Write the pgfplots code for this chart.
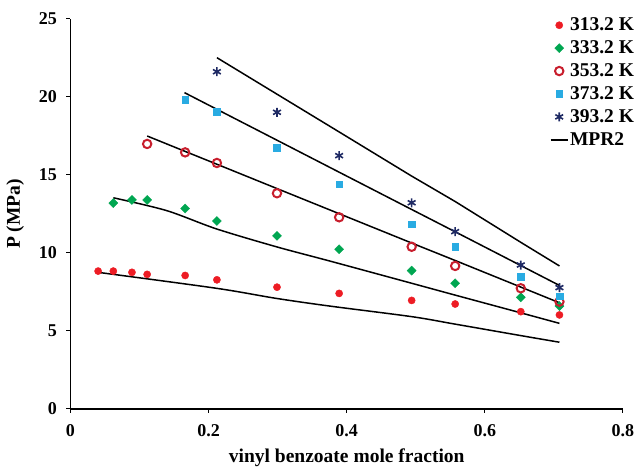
\documentclass[border=0pt]{standalone}
\usepackage{fontspec}
\setmainfont{Liberation Serif}
\usepackage{pgfplots}
\pgfplotsset{compat=1.18}
\definecolor{cA}{RGB}{237,28,36}
\definecolor{cB}{RGB}{0,166,81}
\definecolor{cC}{RGB}{200,30,45}
\definecolor{cD}{RGB}{41,171,226}
\definecolor{cE}{RGB}{31,42,100}
\begin{document}
\begin{tikzpicture}
\path[use as bounding box] (-70.5pt,-59pt) rectangle (566.5pt,409pt);
\begin{axis}[at={(0,0)}, anchor=south west, scale only axis,
  width=552.5pt, height=390pt,
  xmin=0, xmax=0.8, ymin=0, ymax=25,
  axis lines=left, axis line style={-, line width=1.2pt},
  tick align=outside, major tick length=4pt,
  tick style={line width=1pt, black},
  xtick={0,0.2,0.4,0.6,0.8}, xticklabels={0,0.2,0.4,0.6,0.8},
  ytick={0,5,10,15,20,25}, yticklabels={0,5,10,15,20,25},
  /pgf/number format/assume math mode=true,
  ticklabel style={font=\bfseries\fontsize{18}{20}\selectfont},
  xticklabel style={yshift=-8pt},
  yticklabel style={xshift=-6pt},
  xlabel={vinyl benzoate mole fraction},
  ylabel={P (MPa)},
  label style={font=\bfseries\fontsize{19.5}{21}\selectfont},
  xlabel style={at={(axis description cs:0.5,-0.125)}, anchor=center},
  ylabel style={at={(axis description cs:-0.1,0.5)}, anchor=center},
  legend style={draw=none, fill=none, at={(rel axis cs:0.862,1.012)}, anchor=north west,
    font=\bfseries\fontsize{19.5}{21}\selectfont, row sep=5.5pt,
    nodes={inner sep=1.5pt}},
  legend cell align=left,
  clip=false,
]
\addplot[only marks, mark=*, mark size=3.6pt, color=cA] coordinates {
(0.040,8.84)(0.062,8.84)(0.089,8.76)(0.111,8.63)(0.166,8.56)(0.212,8.28)(0.299,7.81)(0.389,7.41)(0.494,6.96)(0.557,6.73)(0.652,6.24)(0.708,6.03)};
\addlegendentry{313.2 K}
\addplot[only marks, mark=square*, mark size=3.2pt, mark options={rotate=45}, color=cB] coordinates {
(0.062,13.2)(0.089,13.4)(0.111,13.4)(0.166,12.85)(0.212,12.05)(0.299,11.1)(0.389,10.24)(0.494,8.87)(0.557,8.06)(0.652,7.16)(0.708,6.6)};
\addlegendentry{333.2 K}
\addplot[only marks, mark=o, mark size=4.2pt, line width=2pt, color=cC] coordinates {
(0.111,16.99)(0.166,16.45)(0.212,15.77)(0.299,13.83)(0.389,12.29)(0.494,10.4)(0.557,9.17)(0.652,7.74)(0.708,6.88)};
\addlegendentry{353.2 K}
\addplot[only marks, mark=square*, mark size=3.3pt, color=cD] coordinates {
(0.166,19.81)(0.212,19.06)(0.299,16.75)(0.389,14.4)(0.494,11.84)(0.557,10.4)(0.652,8.48)(0.708,7.24)};
\addlegendentry{373.2 K}
\addplot[only marks, mark=asterisk, mark size=4.5pt, line width=1.6pt, color=cE] coordinates {
(0.212,21.62)(0.299,19.02)(0.389,16.24)(0.494,13.22)(0.557,11.37)(0.652,9.23)(0.708,7.78)};
\addlegendentry{393.2 K}
\addplot[no marks, smooth, line width=1.5pt, black] coordinates {
(0.040,8.76)(0.211,7.74)(0.298,7.09)(0.375,6.6)(0.494,5.92)(0.557,5.44)(0.654,4.69)(0.708,4.28)};
\addlegendentry{MPR2}
\addplot[no marks, smooth, line width=1.5pt, black, forget plot] coordinates {
(0.062,13.54)(0.139,12.72)(0.211,11.55)(0.298,10.4)(0.375,9.49)(0.494,8.06)(0.557,7.3)(0.654,6.14)(0.708,5.49)};
\addplot[no marks, line width=1.5pt, black, forget plot] coordinates {
(0.111,17.5)(0.165,16.53)(0.212,15.69)(0.299,14.13)(0.389,12.52)(0.494,10.64)(0.557,9.52)(0.654,7.78)(0.708,6.81)};
\addplot[no marks, line width=1.5pt, black, forget plot] coordinates {
(0.165,20.28)(0.212,19.21)(0.299,17.23)(0.389,15.18)(0.494,12.79)(0.557,11.36)(0.654,9.15)(0.708,7.92)};
\addplot[no marks, line width=1.5pt, black, forget plot] coordinates {
(0.212,22.52)(0.299,20.18)(0.389,17.76)(0.494,14.93)(0.557,13.3)(0.654,10.63)(0.708,9.17)};
\end{axis}
\end{tikzpicture}
\end{document}
